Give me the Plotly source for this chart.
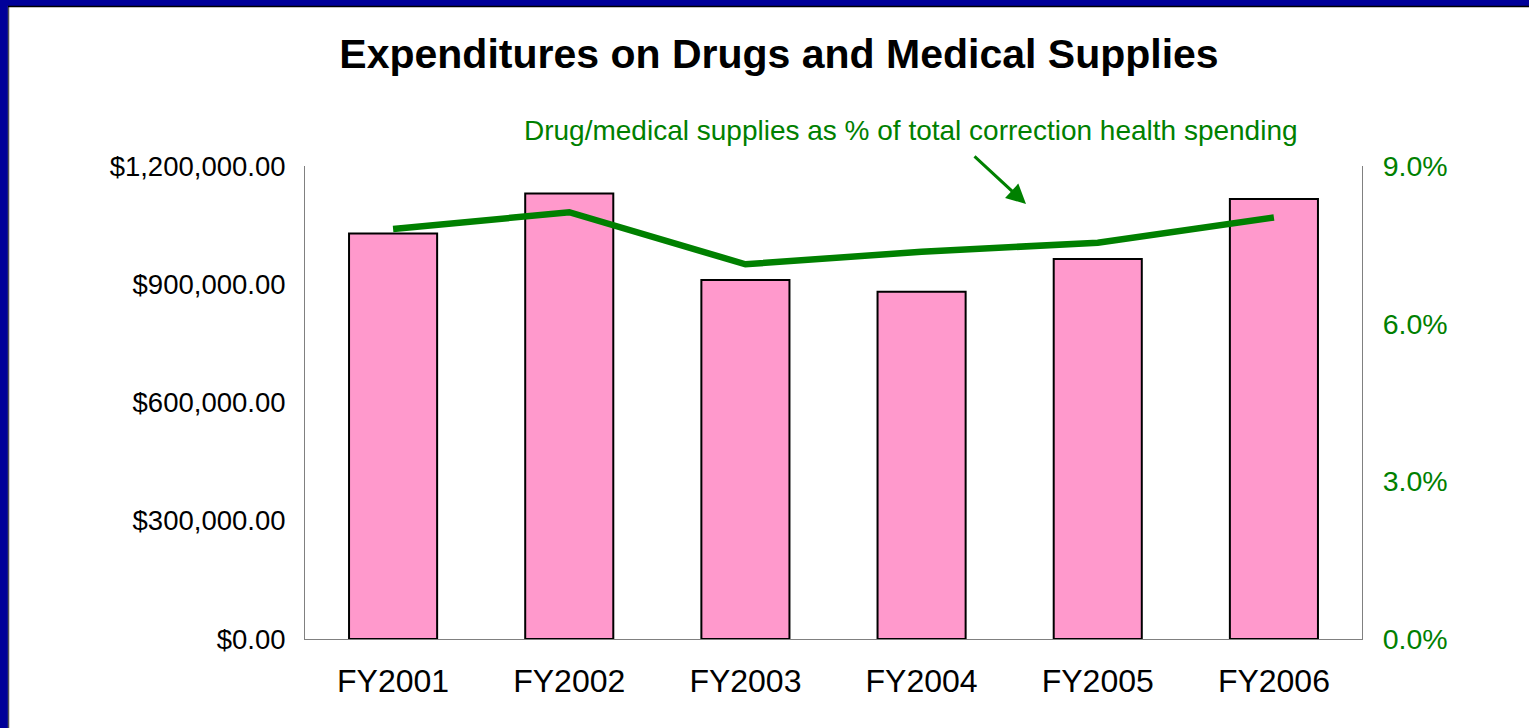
import plotly.graph_objects as go

categories = ["FY2001", "FY2002", "FY2003", "FY2004", "FY2005", "FY2006"]
expenditures = [1029000, 1130000, 911000, 881000, 964000, 1116000]
pct_of_health = [0.0780, 0.0812, 0.0713, 0.0737, 0.0754, 0.0802]
left_ticks = [0, 300000, 600000, 900000, 1200000]
right_ticks = [0, 0.03, 0.06, 0.09]

W, H = 1529, 728
L, R, T, B = 305, 1362, 166, 639
PW, PH = R - L, B - T

def px(x):
    return (x - L) / PW

def py(y):
    return (B - y) / PH

GREEN = "#008000"
BLUE = "#000099"
FONT = "Liberation Sans, Arial, sans-serif"

fig = go.Figure()
fig.add_trace(go.Bar(
    x=categories, y=expenditures, width=0.5,
    marker=dict(color="#FF99CC", line=dict(color="black", width=2)),
    showlegend=False, hoverinfo="skip",
))
fig.add_trace(go.Scatter(
    x=categories, y=pct_of_health, yaxis="y2", mode="lines",
    line=dict(color=GREEN, width=6.5), showlegend=False, hoverinfo="skip",
))

fig.update_layout(
    width=W, height=H,
    margin=dict(l=L, r=W - R, t=T, b=H - B, pad=0),
    paper_bgcolor="white", plot_bgcolor="white",
    font=dict(family=FONT, color="black"),
    title=dict(text="<b>Expenditures on Drugs and Medical Supplies</b>",
               x=779 / W, xanchor="center", y=1 - 54 / H, yanchor="middle",
               font=dict(size=41, family=FONT, color="black")),
    xaxis=dict(showline=True, linecolor="#808080", linewidth=1, showgrid=False,
               ticks="", tickfont=dict(size=32), ticklabelstandoff=14),
    yaxis=dict(range=[0, 1200000], tickvals=left_ticks, tickformat="$,.2f",
               showline=True, linecolor="#808080", linewidth=1, showgrid=False,
               zeroline=False, ticks="", tickfont=dict(size=27.5),
               ticklabelstandoff=13),
    yaxis2=dict(range=[0, 0.09], tickvals=right_ticks, tickformat=".1%",
                overlaying="y", side="right", showline=True, linecolor="#808080",
                linewidth=1, showgrid=False, zeroline=False, ticks="",
                tickfont=dict(size=28.5, color=GREEN), ticklabelstandoff=14),
    bargap=0.5,
)

fig.add_annotation(
    text="Drug/medical supplies as % of total correction health spending",
    xref="paper", yref="paper", x=px(911), y=py(130),
    xanchor="center", yanchor="middle", showarrow=False,
    font=dict(size=28, color=GREEN, family=FONT),
)
fig.add_annotation(
    text="", xref="paper", yref="paper", x=px(1026), y=py(204),
    ax=-53, ay=-49, showarrow=True, arrowhead=2, arrowsize=1.3,
    arrowwidth=3, arrowcolor=GREEN,
)

# blue frame on left and top edges
fig.add_shape(type="rect", xref="paper", yref="paper",
              x0=px(0), x1=px(8), y0=py(H), y1=py(0),
              fillcolor=BLUE, line=dict(width=0), layer="above")
fig.add_shape(type="rect", xref="paper", yref="paper",
              x0=px(0), x1=px(W), y0=py(6), y1=py(0),
              fillcolor=BLUE, line=dict(width=0), layer="above")
fig.add_shape(type="line", xref="paper", yref="paper",
              x0=px(8.5), x1=px(8.5), y0=py(H), y1=py(6),
              line=dict(color="#555555", width=1.5), layer="above")
fig.add_shape(type="line", xref="paper", yref="paper",
              x0=px(8), x1=px(W), y0=py(6.5), y1=py(6.5),
              line=dict(color="black", width=1.5), layer="above")

fig.write_html("out.html", config={"displayModeBar": False},
               post_script="document.body.style.margin='0';document.body.style.overflow='hidden';")
